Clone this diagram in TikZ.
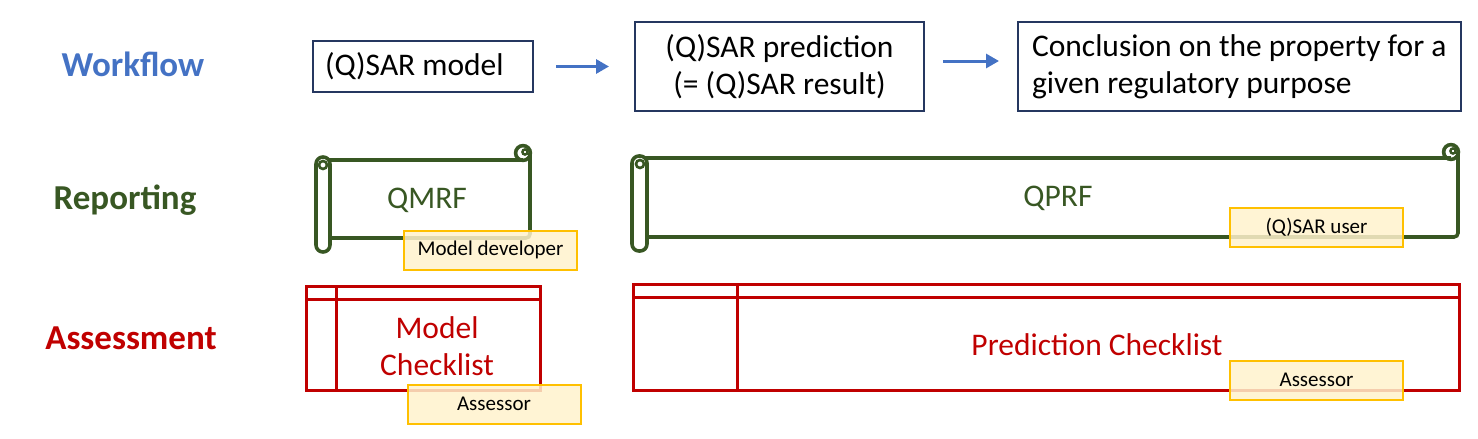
\documentclass[tikz,border=0pt]{standalone}
\usepackage{fontspec}
\setmainfont{Carlito}
\usetikzlibrary{arrows.meta, positioning}

\definecolor{flowblue}{RGB}{68,114,196}
\definecolor{boxnavy}{RGB}{37,55,96}
\definecolor{repgreen}{RGB}{56,87,35}
\definecolor{assred}{RGB}{192,0,0}
\definecolor{notefill}{RGB}{255,242,204}
\definecolor{noteline}{RGB}{255,192,0}

\begin{document}
\begin{tikzpicture}[
    x=0.5pt, y=-0.5pt,
    rowlabel/.style={font=\fontsize{17.5}{21}\selectfont\bfseries},
    bigtext/.style={font=\fontsize{15.75}{18.5}\selectfont, align=center},
    flowbox/.style={rectangle, draw=boxnavy, line width=1pt, fill=white,
                    font=\fontsize{15.75}{18.5}\selectfont, minimum height=25.5pt},
    role/.style={rectangle, draw=noteline, line width=1pt, fill=notefill,
                 fill opacity=0.85, text opacity=1, minimum width=86.5pt,
                 minimum height=19.5pt, font=\fontsize{10.5}{12}\selectfont},
    flow/.style={-{Triangle[length=6.5pt, width=7pt]}, draw=flowblue, line width=1.5pt},
    scroll/.style={draw=repgreen, line width=1.8pt},
    checklist/.style={draw=assred, line width=1.5pt}
]
\useasboundingbox (0,0) rectangle (1478,439);

% Row labels
\node[rowlabel, text=flowblue] (workflow) at (133,64) {Workflow};
\node[rowlabel, text=repgreen] (reporting) at (125,200) {Reporting};
\node[rowlabel, text=assred] (assessment) at (131,338) {Assessment};

% Workflow
\node[flowbox, align=flush left, inner xsep=6pt, text width=98pt] (model) at (423,66.5) {(Q)SAR model};
\node[flowbox, align=center, minimum width=144.5pt, minimum height=44.5pt, right=50pt of model] (pred) {(Q)SAR prediction\\(= (Q)SAR result)};
\node[flowbox, align=flush left, inner xsep=7pt, text width=207.5pt, minimum height=44.5pt, right=46pt of pred] (concl) {Conclusion on the property for a\\given regulatory purpose};

\draw[flow, shorten <=11pt, shorten >=12.5pt] (model) -- (pred);
\draw[flow, shorten <=9pt, shorten >=9pt] ([yshift=2.75pt]pred.east) -- ([yshift=2.75pt]concl.west);

% Reporting scrolls
\draw[scroll] (323,160) -- (523,160);
\draw[scroll, rounded corners=2pt] (530,153) -- (530,238) -- (330,238);
\draw[scroll] (523,153) circle[radius=3.7pt];
\draw[scroll, line width=1.2pt] (525,152) circle[radius=1.3pt];
\draw[scroll, fill=white, rounded corners=3.5pt] (316,157) rectangle (330,252);
\draw[scroll, line width=1.3pt] (323,165) circle[radius=2pt];
\node[bigtext, text=repgreen] (qmrf) at (427,200) {QMRF};

\draw[scroll] (640,158) -- (1451,158);
\draw[scroll, rounded corners=2pt] (1458,152) -- (1458,237) -- (647,237);
\draw[scroll] (1451,152) circle[radius=3.7pt];
\draw[scroll, line width=1.2pt] (1453,151) circle[radius=1.3pt];
\draw[scroll, fill=white, rounded corners=3.5pt] (632,156) rectangle (647,251);
\draw[scroll, line width=1.3pt] (640,164) circle[radius=2pt];
\node[bigtext, text=repgreen] (qprf) at (1058,198) {QPRF};

% Assessment checklists
\draw[checklist] (306,286) rectangle (540,390);
\draw[checklist] (306,299) -- (540,299);
\draw[checklist] (336,286) -- (336,390);
\node[bigtext, text=assred] (modelcheck) at (437,346) {Model\\Checklist};

\draw[checklist] (633,284) rectangle (1459,390);
\draw[checklist] (633,297) -- (1459,297);
\draw[checklist] (737,284) -- (737,390);
\node[bigtext, text=assred] (predcheck) at (1097,345) {Prediction Checklist};

% Roles
\node[role] (developer) at (490.5,250) {Model developer};
\node[role] (user) at (1316.5,227.5) {(Q)SAR user};
\node[role] (modelassessor) at (494,404) {Assessor};
\node[role] (predassessor) at (1316.5,380) {Assessor};

\end{tikzpicture}
\end{document}
